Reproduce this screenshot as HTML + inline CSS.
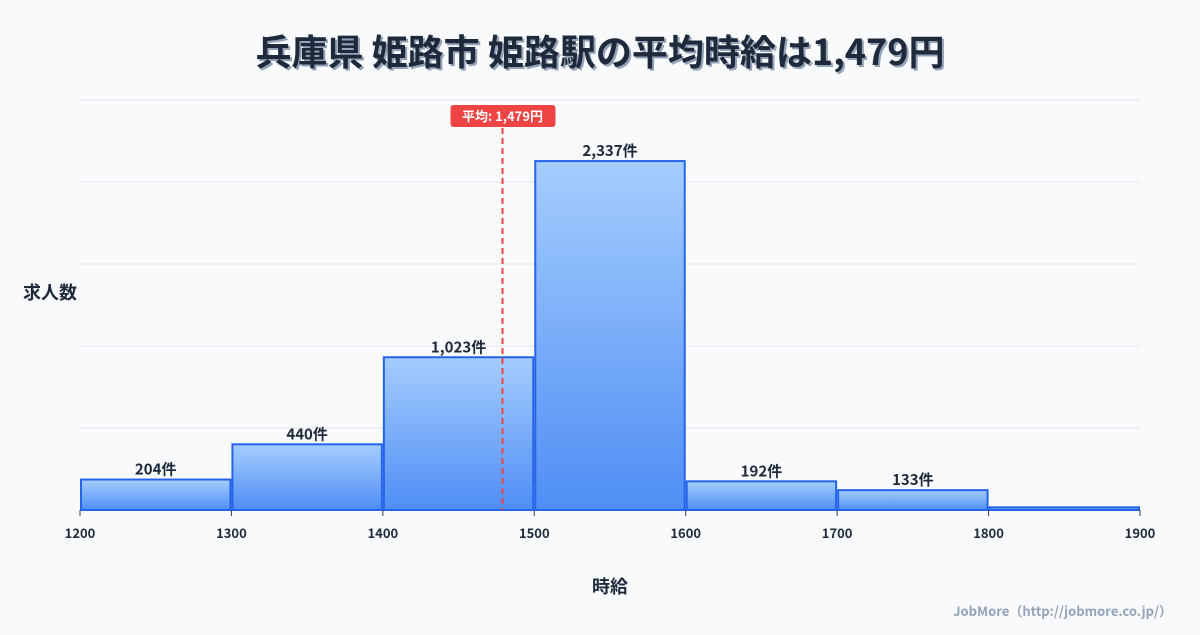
<!DOCTYPE html>
<html><head><meta charset="utf-8"><style>
body{margin:0;background:#f8fafc;width:1200px;height:630px;overflow:hidden;font-family:"Noto Sans CJK JP",sans-serif;}
svg text{font-family:"Noto Sans CJK JP",sans-serif;}
</style></head><body>
<svg id="chart" width="1200" height="630">
<defs><linearGradient id="g" x1="0" y1="0" x2="0" y2="1"><stop offset="0" stop-color="#a5cdfd"/><stop offset="1" stop-color="#4f8ef5"/></linearGradient></defs>
<text x="602" y="67" text-anchor="middle" font-size="36" font-weight="bold" fill="#94a3b8">兵庫県 姫路市 姫路駅の平均時給は1,479円</text>
<text x="600" y="65" text-anchor="middle" font-size="36" font-weight="bold" fill="#1e293b">兵庫県 姫路市 姫路駅の平均時給は1,479円</text>
<text x="50" y="299" text-anchor="middle" font-size="18" font-weight="bold" fill="#1e293b">求人数</text>
<text x="610" y="593" text-anchor="middle" font-size="18" font-weight="bold" fill="#1e293b">時給</text>
<text x="1172" y="616" text-anchor="end" font-size="13" font-weight="bold" fill="#94a3b8">JobMore（http://jobmore.co.jp/）</text>
<g id="grid"></g><g id="bars"></g><g id="xt"></g><g id="avg"></g>
</svg>
<script>
const binStarts=[1200,1300,1400,1500,1600,1700,1800];
const counts=[204,440,1023,2337,192,133,18];
const countLabels=["204件","440件","1,023件","2,337件","192件","133件",""];
const xTicks=[1200,1300,1400,1500,1600,1700,1800,1900];
const avgValue=1479;
const avgLabel="平均: 1,479円";
const yMax=2746;
const NS="http://www.w3.org/2000/svg";
const X=v=>80+(v-1200)*(1060/700);
const Y=v=>510-v*(410/yMax);
function mk(t,a,p){const e=document.createElementNS(NS,t);for(const k in a)e.setAttribute(k,a[k]);p.appendChild(e);return e;}
const grid=document.getElementById('grid');
for(let i=0;i<=5;i++){const v=yMax*i/5;
const l=mk('line',{x1:80,x2:1140,y1:Y(v),y2:Y(v),stroke:i==0?'#cbd5e1':'#e2e8f0'},grid);

}
const bars=document.getElementById('bars');
binStarts.forEach((s,i)=>{
const x0=X(s)+1,x1=X(s+100)-1,y=Y(counts[i]);
const r=mk('rect',{x:x0,y:y,width:x1-x0,height:510-y,fill:'url(#g)',stroke:'#2563eb','stroke-width':2},bars);


if(countLabels[i]){const t=mk('text',{x:(x0+x1)/2,y:y-5,'text-anchor':'middle','font-size':15,'font-weight':'bold',fill:'#1e293b'},bars);t.textContent=countLabels[i];

}
});
const xt=document.getElementById('xt');
xTicks.forEach(v=>{
const l=mk('line',{x1:X(v),x2:X(v),y1:510,y2:516,stroke:'#334155'},xt);


const t=mk('text',{x:X(v),y:538,'text-anchor':'middle','font-size':13,'font-weight':'bold',fill:'#1e293b'},xt);t.textContent=v;

});
const ag=document.getElementById('avg');const ax=X(avgValue);
const al=mk('line',{x1:ax,x2:ax,y1:128,y2:510,stroke:'#ef4444','stroke-width':2,'stroke-dasharray':'6,4'},ag);


const ab=mk('rect',{x:ax-52,y:105,width:105,height:22,rx:3,fill:'#ef4444'},ag);


const at=mk('text',{x:ax,y:121,'text-anchor':'middle','font-size':13,'font-weight':'bold',fill:'#fff'},ag);at.textContent=avgLabel;


</script>
</body></html>
